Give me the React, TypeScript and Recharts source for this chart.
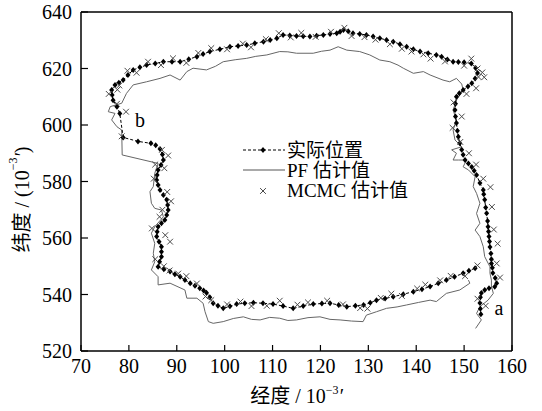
import React from "react"
import {
  ComposedChart,
  Line,
  Scatter,
  XAxis,
  YAxis,
  ReferenceLine,
  ReferenceDot,
} from "recharts"

// longitude / latitude in units of 10^-3 minute
const xTicks = [70, 80, 90, 100, 110, 120, 130, 140, 150, 160]
const yTicks = [520, 540, 560, 580, 600, 620, 640]

// true trajectory, starting at "a", going round to "b" and on
const actualPath: [number, number][] = [
  [153.5, 533], [153.4, 535], [153.3, 537], [153.4, 539], [153.6, 540.5], [154.3, 541.6],
  [155.2, 542.2], [156.4, 542.7], [156.8, 544], [156.5, 545.8], [156.0, 547.6], [155.9, 549.5],
  [155.7, 551], [155.7, 552.5], [155.6, 554.5], [155.4, 556.8], [155.3, 558.8], [155.2, 560.5],
  [155.1, 562.3], [155.0, 564], [154.9, 566], [154.7, 568.8], [154.5, 570.8], [154.3, 573.5],
  [154.1, 575.5], [154.0, 577], [153.3, 579.5], [152.6, 582.3], [152.1, 583.8], [151.6, 585.1],
  [150.9, 586.4], [150.2, 587.6], [149.8, 589.5], [149.5, 591.2], [149.1, 593.5], [148.8, 595.8],
  [148.6, 598], [148.4, 600.7], [148.2, 603], [148.1, 605.3], [148.2, 607.5], [148.4, 610],
  [149.0, 611.2], [149.8, 612.4], [150.8, 613.6], [151.6, 614.8], [152.3, 616.5], [152.8, 618.4],
  [152.4, 620.2], [151.5, 621.8], [150.0, 622.2], [148.8, 622.3], [147.7, 622.4], [146.5, 623.2],
  [145.3, 624.2], [144.2, 624.8], [142.5, 625.4], [140.8, 626], [139.4, 626.8], [138.0, 627.7],
  [136.6, 628.6], [135.2, 629.5], [133.8, 630.1], [132.4, 630.7], [131.0, 631.3], [129.6, 631.9],
  [128.2, 632.2], [126.8, 632.5], [125.8, 633.2], [124.8, 633.6], [124.1, 633], [123.4, 632.5],
  [122.0, 632.2], [120.6, 631.9], [119.2, 631.6], [117.8, 631.3], [116.4, 631.4], [115.0, 631.5],
  [113.6, 631.7], [112.2, 631.9], [110.9, 630.7], [109.5, 630.1], [108.1, 629.5], [106.3, 628.9],
  [104.6, 628.3], [102.8, 628], [101.1, 627.7], [99.0, 626.8], [96.9, 626], [95.5, 625.1],
  [94.2, 624.2], [92.5, 623.3], [90.7, 622.4], [89.0, 622.4], [87.2, 622.4], [85.5, 621.8],
  [83.7, 621.2], [82.3, 620.4], [80.9, 619.5], [79.8, 617.7], [78.8, 615.9], [77.9, 615.0],
  [77.1, 614.2], [76.4, 612.4], [76.5, 610.6], [76.7, 608.8], [77.5, 606.5], [78.1, 604.1],
  [78.8, 595.6], [81.9, 594.2], [84.6, 593.5], [85.6, 592.8], [86.5, 591.5], [87.0, 589.6],
  [87.2, 587.6], [86.7, 585.8], [86.1, 584.1], [85.9, 582.3], [85.8, 580.5], [86.1, 578.8],
  [86.5, 577], [87.2, 575.2], [87.9, 573.5], [88.1, 571.7], [88.2, 569.9], [87.9, 568.1],
  [87.5, 566.4], [86.8, 565.2], [86.1, 564], [85.9, 562.2], [85.8, 560.5], [86.3, 558.7],
  [86.8, 556.9], [86.8, 555.1], [86.8, 553.4], [86.4, 551.6], [86.1, 549.8], [87.3, 548.9],
  [88.6, 548.1], [89.6, 547.2], [90.7, 546.3], [91.7, 545.1], [92.8, 544], [93.8, 543.1],
  [94.8, 542.2], [95.6, 541.4], [96.2, 540.6], [96.9, 539], [97.6, 536.9], [98.6, 536],
  [99.7, 535.1], [101.1, 535.8], [102.5, 536.6], [104.2, 536.9], [106.0, 537.1], [108.0, 536.9],
  [110.1, 536.6], [112.2, 535.9], [114.3, 535.1], [116.4, 535.9], [118.5, 536.6], [120.3, 536.8],
  [122.0, 536.9], [123.8, 536.3], [125.5, 535.7], [127.3, 536], [129.0, 536.3], [130.4, 537.1],
  [131.7, 538], [133.5, 538.6], [135.2, 539.2], [137.3, 540.1], [139.4, 541], [141.2, 541.9],
  [142.9, 542.8], [144.6, 544], [146.3, 545.1], [148.0, 546.3], [149.8, 547.5], [151.0, 548.4],
  [152.3, 549.3],
]

// particle filter estimate
const pfPath: [number, number][] = [
  [152.4, 528.0], [153.6, 531], [152.6, 533.3], [153.3, 535.7], [155.0, 538], [156.1, 540.4],
  [155.7, 543], [155.7, 545.1], [155.4, 547.5], [155.4, 549.8], [154.3, 553.4], [154.0, 556.9],
  [153.3, 560.5], [152.3, 562.8], [153.3, 565.2], [152.6, 568.7], [153.3, 572.3], [152.6, 575.8],
  [151.9, 578.2], [152.3, 581.7], [150.9, 584.1], [149.8, 585.2], [150.5, 587.6], [148.8, 587.6],
  [147.7, 587.6], [148.4, 590], [147.4, 591.2], [149.5, 592.3], [148.1, 594.7], [147.7, 598.2],
  [148.4, 601.8], [147.7, 605.3], [148.4, 608.8], [149.8, 612.4], [149.5, 614.5], [148.4, 616.5],
  [147.0, 615.3], [145.6, 615.9], [142.9, 617.7], [141.5, 618.9], [139.4, 618.3], [137.3, 620.1],
  [136.2, 621.2], [134.5, 622.4], [132.4, 623], [130.3, 624.8], [128.2, 626], [125.5, 626.5],
  [123.7, 627.7], [122.0, 626.5], [120.2, 626.1], [118.5, 625.4], [115.0, 625.4], [113.2, 625.9],
  [111.5, 626], [108.8, 624.8], [106.5, 624.3], [104.6, 623.6], [102.2, 623.1], [99.7, 622.4],
  [98.1, 620.8], [96.2, 619.5], [93.4, 620.1], [92.1, 618.9], [90.7, 615.9], [88.6, 617.7],
  [86.5, 616.5], [83.7, 615.3], [80.9, 614.2], [79.5, 611.2], [78.5, 607.7], [76.1, 606.5],
  [75.7, 604.7], [77.1, 604.1], [76.4, 601.8], [77.5, 599.4], [78.5, 598.2], [78.6, 589.4],
  [86.1, 586.4], [85.4, 582.9], [85.1, 578.2], [84.4, 576.4], [84.7, 572.3], [85.4, 570.5],
  [86.8, 569.9], [87.2, 567.5], [85.4, 564], [84.7, 561.7], [85.4, 558.1], [85.1, 554.6],
  [85.4, 551.6], [84.7, 548.7], [86.1, 546.3], [86.1, 543.4], [88.6, 544], [91.7, 541.6],
  [92.1, 538.7], [94.2, 538.7], [95.5, 536.9], [95.9, 533.9], [96.6, 530.4], [97.6, 529.8],
  [99.7, 530.4], [101.8, 531.5], [103.9, 532.1], [105.6, 531.2], [107.4, 531], [109.4, 531.9],
  [111.5, 531.6], [113.2, 530.8], [115.0, 531], [117.4, 531.8], [119.9, 532.1], [122.0, 531.2],
  [124.1, 531], [126.5, 530.6], [128.9, 530.4], [129.6, 532.7], [131.7, 533.9], [133.8, 535.1],
  [136.0, 535.6], [138.0, 536.3], [140.5, 537.2], [142.9, 538], [144.2, 537.5], [146.3, 540.4],
  [149.1, 541.6], [151.2, 544], [150.9, 545.1],
]

// MCMC estimates (scattered crosses)
const mcmcPoints: [number, number][] = [
  [154.5, 536], [152.8, 538.5], [157.5, 546], [156.8, 551], [157.0, 558], [156.2, 563],
  [155.8, 571], [155.5, 578], [154.0, 581], [152.5, 586], [151.0, 590], [149.2, 594],
  [147.6, 599], [149.5, 603], [147.8, 608], [150.5, 611], [152.5, 613], [153.0, 617],
  [153.8, 618.6], [154.2, 616.9], [152.8, 620], [151.5, 623.5], [150.0, 621], [146.0, 622.5],
  [143.0, 623.5], [141.5, 625], [139.0, 626], [137.0, 627], [134.5, 628.6], [131.5, 630.2],
  [129.2, 631.1], [126.5, 631.5], [125.0, 634.4], [122.2, 633], [119.0, 631.2], [116.0, 632.6],
  [113.8, 631], [111.3, 632.5], [108.6, 630.4], [105.5, 627.5], [103.8, 628.8], [100.5, 626.8],
  [97.2, 627.2], [94.5, 625.5], [92.0, 622], [89.2, 623.6], [86.7, 621.2], [84.0, 622.4],
  [81.6, 618.5], [79.7, 619.2], [78.0, 614], [77.6, 612.5], [75.8, 611], [77.5, 607.5],
  [79.4, 604.7], [78.5, 596], [86.9, 591.2], [88.2, 589.2], [85.5, 586], [87.4, 584.7],
  [85.2, 581], [88.0, 576.3], [88.8, 573], [87.0, 570], [86.4, 567.5], [84.8, 563.4],
  [87.6, 561], [88.6, 558.7], [85.5, 552.5], [87.3, 550], [88.5, 548.5], [90.3, 547.4],
  [92.0, 546.5], [94.2, 543.9], [96.0, 539.3], [97.2, 538], [100.5, 536.5], [103.3, 537.5],
  [105.6, 535.9], [108.8, 536], [111.5, 537.8], [115.2, 536.4], [117.4, 537.2], [121.4, 537.8],
  [124.7, 536.5], [128.3, 535.2], [129.8, 535], [132.6, 538.8], [134.8, 540.3], [137.0, 539.5],
  [140.2, 542.1], [141.9, 543.5], [145.0, 545], [147.2, 546.6], [150.2, 546.5], [152.8, 550.3],
]

const toPoints = (p: [number, number][]) => p.map(([x, y]) => ({ x, y }))
const actualData = toPoints(actualPath)
const pfData = toPoints(pfPath)
const mcmcData = toPoints(mcmcPoints)

const serif = "'Liberation Serif', 'Times New Roman', 'Noto Sans CJK SC', serif"

function Diamond({ cx, cy }: any) {
  if (cx == null || cy == null) return null
  return (
    <path
      d={`M${cx},${cy - 3}L${cx + 2.5},${cy}L${cx},${cy + 3}L${cx - 2.5},${cy}Z`}
      fill="#000"
    />
  )
}

function Cross({ cx, cy }: any) {
  if (cx == null || cy == null) return null
  const s = 2.9
  return (
    <path
      d={`M${cx - s},${cy - s}L${cx + s},${cy + s}M${cx - s},${cy + s}L${cx + s},${cy - s}`}
      stroke="#4a4a4a"
      strokeWidth={1}
      fill="none"
    />
  )
}

function XLabel({ viewBox }: any) {
  const cx = viewBox.x + viewBox.width / 2
  return (
    <text x={cx} y={viewBox.y + 52} textAnchor="middle" fontSize={20} fontFamily={serif} fill="#000">
      经度 / 10
      <tspan fontSize={12} dy={-9}>−3</tspan>
      <tspan dy={9} fontStyle="italic">′</tspan>
    </text>
  )
}

function YLabel({ viewBox }: any) {
  const cy = viewBox.y + viewBox.height / 2 + 18
  return (
    <text
      x={22}
      y={cy}
      transform={`rotate(-90, 22, ${cy})`}
      textAnchor="middle"
      dominantBaseline="central"
      fontSize={20}
      fontFamily={serif}
      fill="#000"
    >
      纬度 / (10
      <tspan fontSize={12} dy={-9}>−3</tspan>
      <tspan dy={9} fontStyle="italic">′</tspan>)
    </text>
  )
}

function LegendBox() {
  return (
    <svg width={200} height={66} style={{ overflow: "visible", display: "block" }}>
      <g fontFamily={serif} fontSize={19} fill="#000">
        <line x1={3} y1={12} x2={45} y2={12} stroke="#000" strokeDasharray="3 2" />
        <Diamond cx={23} cy={12} />
        <text x={47} y={12} dominantBaseline="central">实际位置</text>
        <line x1={3} y1={32} x2={45} y2={32} stroke="#555" />
        <text x={47} y={32} dominantBaseline="central">PF 估计值</text>
        <Cross cx={23} cy={53} />
        <text x={47} y={52} dominantBaseline="central">MCMC 估计值</text>
      </g>
    </svg>
  )
}

const tickStyle = { fontSize: 20, fontFamily: serif, fill: "#000" }

export default function App() {
  return (
    <div style={{ position: "absolute", left: 0, top: 0, width: 542, height: 411, background: "#fff" }}>
      <ComposedChart
        width={542}
        height={411}
        margin={{ top: 12, right: 30, bottom: 0, left: 0 }}
      >
        <XAxis
          type="number"
          dataKey="x"
          domain={[70, 160]}
          ticks={xTicks}
          allowDataOverflow
          height={60}
          tickSize={-6}
          tickMargin={14}
          tick={tickStyle}
          axisLine={{ stroke: "#000", strokeWidth: 1.5 }}
          tickLine={{ stroke: "#000", strokeWidth: 1.2 }}
          label={{ content: XLabel }}
        />
        <YAxis
          type="number"
          dataKey="y"
          domain={[520, 640]}
          ticks={yTicks}
          allowDataOverflow
          width={81}
          tickSize={-7}
          tickMargin={16}
          tick={tickStyle}
          axisLine={{ stroke: "#000", strokeWidth: 1.5 }}
          tickLine={{ stroke: "#000", strokeWidth: 1.2 }}
          label={{ content: YLabel }}
        />
        <ReferenceLine y={640} stroke="#000" strokeWidth={1.5} />
        <ReferenceLine x={160} stroke="#000" strokeWidth={1.5} />
        <Line
          data={pfData}
          dataKey="y"
          type="linear"
          stroke="#666"
          strokeWidth={1}
          dot={false}
          isAnimationActive={false}
        />
        <Line
          data={actualData}
          dataKey="y"
          type="linear"
          stroke="#000"
          strokeWidth={1}
          strokeDasharray="3 2"
          dot={(p: any) => <Diamond key={p.index} cx={p.cx} cy={p.cy} />}
          isAnimationActive={false}
        />
        <Scatter
          data={mcmcData}
          dataKey="y"
          shape={(p: any) => <Cross cx={p.cx} cy={p.cy} />}
          isAnimationActive={false}
        />
        <ReferenceDot
          x={82.3}
          y={601.8}
          r={0}
          label={{ value: "b", position: "center", fontSize: 20, fontFamily: serif, fill: "#000" }}
        />
        <ReferenceDot
          x={157.3}
          y={535.2}
          r={0}
          label={{ value: "a", position: "center", fontSize: 20, fontFamily: serif, fill: "#000" }}
        />
      </ComposedChart>
      <div style={{ position: "absolute", left: 240, top: 138 }}>
        <LegendBox />
      </div>
    </div>
  )
}
